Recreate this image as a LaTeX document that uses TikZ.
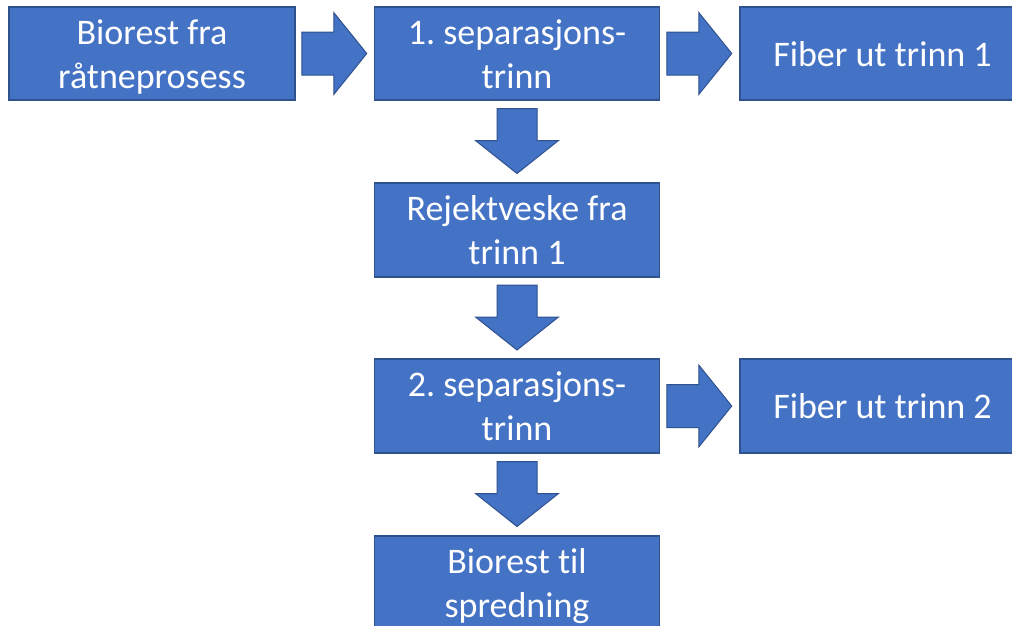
\documentclass[tikz,border=0pt]{standalone}
\usepackage{fontspec}
\setmainfont{Carlito}[Ligatures=NoCommon]
\usetikzlibrary{calc}
\definecolor{boxfill}{HTML}{4472C4}
\definecolor{boxline}{HTML}{2F528F}
\begin{document}
\frenchspacing
\begin{tikzpicture}[x=1pt,y=-1pt,
  stepbox/.style={draw=boxline,line width=1.2pt,fill=boxfill,text=white,
    minimum width=285pt,minimum height=93pt,inner sep=0pt,align=center,
    font=\fontsize{36}{44}\selectfont\frenchspacing},
  twoline/.style={text height=69pt,text depth=0pt},
  oneline/.style={text height=25pt,text depth=0pt},
  blockarr/.style={draw=boxline,line width=1pt,fill=boxfill,line join=miter},
  rarr/.pic={\draw[blockarr] (-33,-21.5) -- (-1,-21.5) -- (-1,-41) -- (32,0) -- (-1,41) -- (-1,21.5) -- (-33,21.5) -- cycle;},
  darr/.pic={\draw[blockarr] (-20,-33) -- (20,-33) -- (20,-1) -- (41.5,-1) -- (0,32) -- (-41.5,-1) -- (-20,-1) -- cycle;}
]
\clip (0,0) rectangle (1012,625);
\fill[white] (0,0) rectangle (1012,625);
\node[stepbox,twoline,minimum width=286pt] (a) at (152,53.5) {Biorest fra\\råtneprosess};
\node[stepbox,twoline] (b) at (517,53.5) {1. separasjons-\\trinn};
\node[stepbox,oneline] (c) at (882.5,53.5) {Fiber ut trinn 1};
\node[stepbox,twoline,minimum height=94pt] (d) at (517,230) {Rejektveske fra\\trinn 1};
\node[stepbox,twoline,minimum height=94pt] (e) at (517,406) {2. separasjons-\\trinn};
\node[stepbox,oneline,minimum height=94pt] (f) at (882.5,406) {Fiber ut trinn 2};
\node[stepbox,twoline] (g) at (517,582.5) {Biorest til\\spredning};
\path ($(a.east)!0.5!(b.west)$) pic{rarr};
\path ($(b.east)!0.5!(c.west)$) pic{rarr};
\path ($(e.east)!0.5!(f.west)$) pic{rarr};
\path ($(b.south)!0.5!(d.north)$) pic{darr};
\path ($(d.south)!0.5!(e.north)$) pic{darr};
\path ($(e.south)!0.5!(g.north)$) pic{darr};
\end{tikzpicture}
\end{document}
